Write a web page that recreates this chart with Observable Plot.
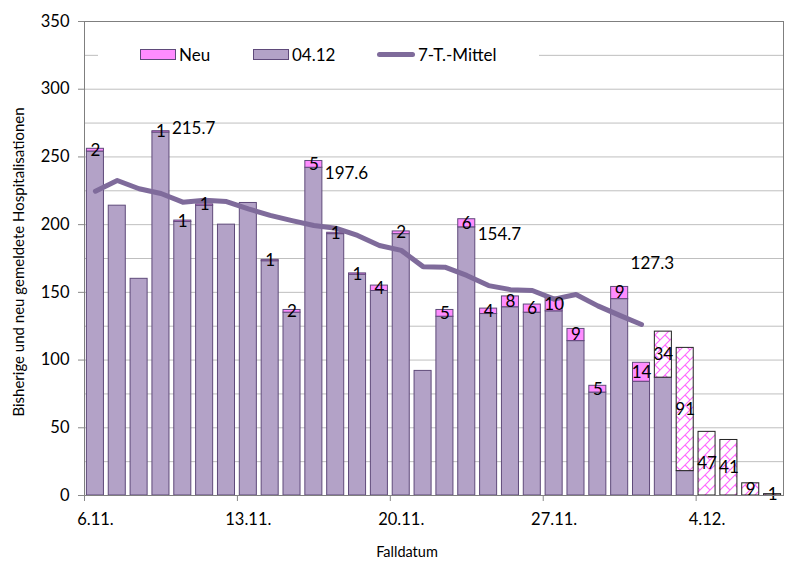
<!DOCTYPE html>
<html><head><meta charset="utf-8">
<script src="https://cdn.jsdelivr.net/npm/d3@7"></script>
<script src="https://cdn.jsdelivr.net/npm/@observablehq/plot@0.6"></script>
<style>
body{margin:0;background:#fff;font-family:Lato,sans-serif}
#wrap{position:relative;width:804px;height:573px;overflow:hidden}
.abs{position:absolute;white-space:nowrap;color:#000}
</style></head><body><div id="wrap"></div>
<script>
const dates=["6.11.","7.11.","8.11.","9.11.","10.11.","11.11.","12.11.","13.11.","14.11.","15.11.","16.11.","17.11.","18.11.","19.11.","20.11.","21.11.","22.11.","23.11.","24.11.","25.11.","26.11.","27.11.","28.11.","29.11.","30.11.","1.12.","2.12.","3.12.","4.12.","5.12.","6.12.","7.12."];
const base0412=[254,214,160,268,202,214,200,216,173,135,242,193,163,151,193,92,132,198,134,139,135,136,114,76,145,84,87,18,0,0,0,0];
const neu=[2,0,0,1,1,1,0,0,1,2,5,1,1,4,2,0,5,6,4,8,6,10,9,5,9,14,34,91,47,41,9,1];
const incomplete=["2.12.","3.12.","4.12.","5.12.","6.12.","7.12."];
const mean7=[224.7,232.6,226.5,223,216.6,218,217,211.7,206.8,203,199.4,197.4,192,184.6,181,169,168.6,162.5,155,152,151.4,145,148.4,140,133,126.3];
const meanLabels=["215.7","197.6","154.7","127.3"];
const meanLabelDates=["9.11.","16.11.","23.11.","30.11."];
const meanLabelY=[271,238,193,171];
const xTicks=["6.11.","13.11.","20.11.","27.11.","4.12."];
const yTicks=[0,50,100,150,200,250,300,350];
const yGrid=[25,50,75,100,125,150,175,200,225,250,275,300,325];

const rows=dates.map((d,i)=>({date:d,base:base0412[i],neu:neu[i],inc:incomplete.includes(d)}));
const meanRows=mean7.map((v,i)=>({date:dates[i],v}));
const labelRows=meanLabels.map((t,i)=>({t,date:meanLabelDates[i],y:meanLabelY[i]}));

const W=804,H=573,ml=84,mr=21,mt=21,mb=78;
const step=(W-ml-mr)/dates.length;
const purple="#b3a2c7",purpleStroke="#5f4a7a",pink="#ff8cff",lineCol="#7f6b9b";

const svg=Plot.plot({
  width:W,height:H,marginLeft:ml,marginRight:mr,marginTop:mt,marginBottom:mb,
  style:{fontFamily:"Lato, sans-serif",fontSize:"16px",color:"#000",background:"#fff"},
  x:{type:"band",domain:dates,paddingInner:0.22,paddingOuter:0.11,round:false,label:null},
  y:{domain:[0,350],label:null},
  marks:[
    Plot.gridY(yGrid,{stroke:"#bfbfbf",strokeOpacity:1}),
    Plot.barY(rows.filter(r=>r.base>0),{x:"date",y1:0,y2:"base",fill:purple,stroke:purpleStroke,strokeWidth:1}),
    Plot.barY(rows.filter(r=>r.neu>0&&!r.inc),{x:"date",y1:"base",y2:r=>r.base+r.neu,fill:pink,stroke:purpleStroke,strokeWidth:1}),
    Plot.barY(rows.filter(r=>r.neu>0&&r.inc),{x:"date",y1:"base",y2:r=>r.base+r.neu,fill:"url(#hatch)",stroke:"#222",strokeWidth:1}),
    Plot.line(meanRows,{x:"date",y:"v",stroke:lineCol,strokeWidth:5,strokeLinecap:"round",strokeLinejoin:"round"}),
    Plot.text(rows.filter(r=>r.neu>0),{x:"date",y:r=>r.base+r.neu/2,text:r=>String(r.neu),fontSize:17,fill:"#000"}),
    Plot.text(labelRows,{x:"date",y:"y",text:"t",textAnchor:"start",dx:step/2,fontSize:17,fill:"#000"}),
    Plot.frame({stroke:"#7f7f7f"}),
    Plot.axisY({ticks:yTicks,tickSize:6,tickPadding:9,fontSize:16.5,stroke:"#888"}),
    Plot.axisX({ticks:xTicks,tickSize:0,tickPadding:18,fontSize:16.5}),
    Plot.axisX({ticks:xTicks,tickSize:6,tickFormat:()=>"",dx:-step/2,stroke:"#888"})
  ]
});
d3.select(svg).insert("defs",":first-child").html(
  '<pattern id="hatch" width="10" height="10" patternUnits="userSpaceOnUse">'+
  '<rect width="10" height="10" style="fill:#ffffff;stroke:none"/>'+
  '<path d="M0,10 L10,0 M5,5 L10,10 M-1,1 L1,-1 M9,11 L11,9" style="stroke:#ff66ff;stroke-width:1.1;fill:none;stroke-opacity:1"/></pattern>');
const wrap=document.getElementById("wrap");
wrap.appendChild(svg);

function add(html,style){const d=document.createElement("div");d.className="abs";d.innerHTML=html;Object.assign(d.style,style);wrap.appendChild(d);return d;}
// legend
add("",{left:"98px",top:"40px",width:"441px",height:"28px",background:"#fff"});
add("",{left:"140px",top:"49px",width:"34px",height:"9px",background:pink,border:"1px solid "+purpleStroke});
add("Neu",{left:"179px",top:"54px",transform:"translateY(-50%)",fontSize:"17px",lineHeight:"17px"});
add("",{left:"253px",top:"49px",width:"34px",height:"9px",background:purple,border:"1px solid "+purpleStroke});
add("04.12",{left:"292px",top:"54px",transform:"translateY(-50%)",fontSize:"17px",lineHeight:"17px"});
add("",{left:"377px",top:"51.5px",width:"38px",height:"5px",background:lineCol,borderRadius:"3px"});
add("7-T.-Mittel",{left:"418px",top:"54px",transform:"translateY(-50%)",fontSize:"17px",lineHeight:"17px"});
// axis titles
add("Bisherige und neu gemeldete Hospitalisationen",{left:"18px",top:"262px",transform:"translate(-50%,-50%) rotate(-90deg)",fontSize:"15px",lineHeight:"15px"});
add("Falldatum",{left:"407px",top:"551px",transform:"translate(-50%,-50%)",fontSize:"14.5px",lineHeight:"15px"});
</script></body></html>
